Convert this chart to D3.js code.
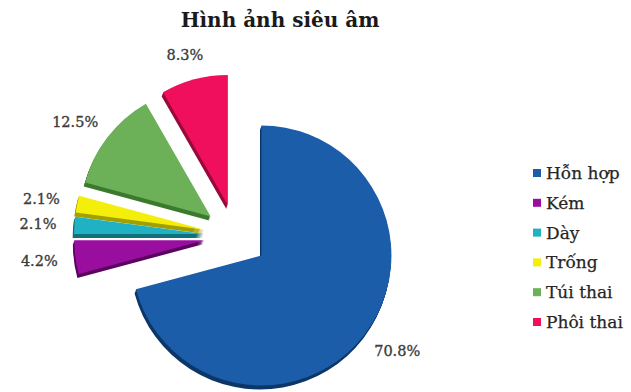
<!DOCTYPE html>
<html>
<head>
<meta charset="utf-8">
<script src="https://cdn.jsdelivr.net/npm/d3@7"></script>
<style>
  html, body { margin: 0; padding: 0; background: #ffffff; }
  svg { display: block; }
</style>
</head>
<body>
<svg id="chart" width="631" height="392"></svg>
<script>
// Ultrasound image categories and their shares (%)
const categories = ["Hỗn hợp", "Kém", "Dày", "Trống", "Túi thai", "Phôi thai"];
const shares = [70.8, 4.2, 2.1, 2.1, 12.5, 8.3];
const shareLabels = ["70.8%", "4.2%", "2.1%", "2.1%", "12.5%", "8.3%"];
const faceColors = ["#1b5da8", "#9a0e9f", "#20b2c3", "#f4ef0a", "#6cb058", "#ef0f5d"];
const sideColors = ["#0d3769", "#5a0660", "#117079", "#a39f00", "#3c7a2f", "#980a3a"];
const title = "Hình ảnh siêu âm";

const cx = 236, cy = 236;      // pie centre
const radius = 130;
const explode = 32;            // every slice pulled out from the centre
const depth = 4;               // thickness of the pie disc
const labelGap = 180;          // distance from centre to the inner edge of a label

const svg = d3.select("#chart");

svg.append("text")
  .attr("x", 280).attr("y", 27)
  .attr("text-anchor", "middle")
  .style("font-family", "'DejaVu Serif', serif")
  .style("font-weight", "bold")
  .style("font-size", "20px")
  .style("fill", "#1a1a1a")
  .text(title);

const color = d3.scaleOrdinal().domain(categories).range(faceColors);
const side = d3.scaleOrdinal().domain(categories).range(sideColors);

const pie = d3.pie().sort(null).value(d => d.value).startAngle(0).endAngle(2 * Math.PI);
const arcs = pie(categories.map((c, i) => ({ name: c, value: shares[i], label: shareLabels[i] })));
const arc = d3.arc().innerRadius(0).outerRadius(radius);

const mid = d => (d.startAngle + d.endAngle) / 2;
const offset = d => [explode * Math.sin(mid(d)), -explode * Math.cos(mid(d))];

const g = svg.append("g").attr("transform", `translate(${cx},${cy})`);

// extruded sides of the disc, drawn first so the faces sit on top
const sides = g.append("g");
arcs.forEach(d => {
  const [ox, oy] = offset(d);
  for (let k = depth; k >= 1; k--) {
    sides.append("path")
      .attr("d", arc(d))
      .attr("transform", `translate(${ox - 0.35 * k},${oy + k})`)
      .attr("fill", side(d.data.name));
  }
});

// top faces
g.append("g").selectAll("path")
  .data(arcs)
  .join("path")
  .attr("d", arc)
  .attr("transform", d => { const [ox, oy] = offset(d); return `translate(${ox},${oy})`; })
  .attr("fill", d => color(d.data.name));

// value labels just beyond each slice's outer edge
const labels = g.append("g").selectAll("text")
  .data(arcs)
  .join("text")
  .attr("text-anchor", "middle")
  .style("font-family", "'DejaVu Serif', serif")
  .style("font-size", "14.5px")
  .style("fill", "#3c3c3c")
  .style("stroke", "#3c3c3c")
  .style("stroke-width", "0.35px")
  .text(d => d.data.label);

labels.each(function (d) {
  const bb = this.getBBox();
  const ux = Math.sin(mid(d)), uy = -Math.cos(mid(d));
  const x = ux * labelGap + ux * bb.width / 2;
  const y = uy * labelGap + uy * bb.height / 2;
  d3.select(this).attr("x", x).attr("y", y + bb.height * 0.33);
});

// legend
const legend = svg.append("g").attr("transform", "translate(533,173)");
const rowY = d3.scalePoint().domain(categories).range([0, 149]);
const rows = legend.selectAll("g")
  .data(categories)
  .join("g")
  .attr("transform", d => `translate(0,${rowY(d)})`);
rows.append("rect")
  .attr("x", 0).attr("y", -4).attr("width", 8).attr("height", 8)
  .attr("fill", d => color(d));
rows.append("text")
  .attr("x", 13).attr("y", 6)
  .style("font-family", "'DejaVu Serif', serif")
  .style("font-size", "17px")
  .style("fill", "#262626")
  .style("stroke", "#262626")
  .style("stroke-width", "0.25px")
  .text(d => d);
</script>
</body>
</html>
